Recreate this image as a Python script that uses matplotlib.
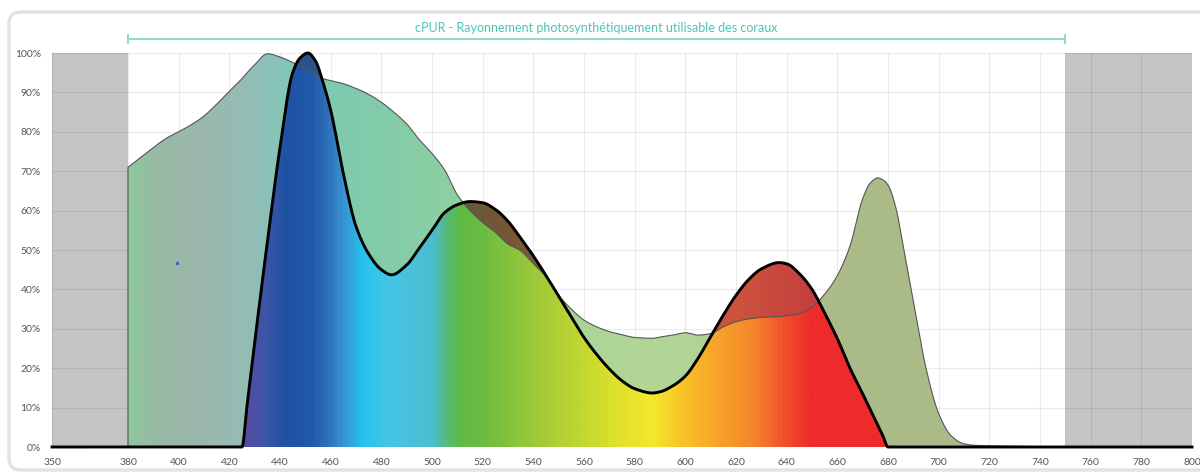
import matplotlib
matplotlib.use("Agg")
import matplotlib.pyplot as plt
import numpy as np
from matplotlib.colors import LinearSegmentedColormap
from matplotlib.path import Path
from matplotlib.patches import FancyBboxPatch

plt.rcParams['font.family'] = ['Lato', 'DejaVu Sans']

# wavelengths (nm) shared by both series
wavelengths = [380, 385, 390, 395, 400, 405, 410, 415, 420, 425, 427, 430, 435, 440,
               445, 448, 451, 454, 457, 460, 465, 470, 475, 480, 484, 490, 495,
               500, 505, 510, 515, 520, 525, 530, 535, 540, 545, 550, 555, 560,
               565, 570, 575, 580, 587, 590, 595, 600, 605, 610, 615, 620, 625,
               630, 637, 640, 645, 650, 655, 660, 665, 670, 673, 676, 678, 680, 683,
               686, 690, 695, 700, 705, 710, 715, 720, 730, 740, 750]

# light spectrum (green area), %
spectrum = [71, 73.5, 76, 78.3, 80, 81.8, 84, 87, 90.3, 93.5, 95, 97, 99.8, 99,
            97.6, 96.8, 95.8, 94.6, 93.5, 93, 92.2, 91, 89.5, 87.5, 85.5, 82, 78,
            74.5, 70.3, 64, 60, 57, 54.5, 51.5, 49.8, 46.5, 43.3, 38.5, 35, 32.2,
            30.5, 29.3, 28.5, 27.8, 27.6, 27.9, 28.4, 29, 28.4, 28.8, 30.5, 31.8, 32.5,
            32.9, 33.1, 33.3, 33.8, 35.5, 38.8, 43.5, 51, 63, 67, 68.3, 67.8, 66.5, 61,
            51, 37, 20, 8.5, 2.8, 0.8, 0.4, 0.3, 0.2, 0.1, 0]

# coral cPUR curve (black outline), %
cpur = [0, 0, 0, 0, 0, 0, 0, 0, 0, 0, 10.6, 26.5, 52, 76,
        95, 98.8, 100, 98, 92.5, 85.5, 69.4, 56, 49, 45, 43.7, 46.2, 50.5,
        55, 59.5, 61.5, 62.3, 62, 60.3, 57.3, 53, 48.5, 43.5, 38.3, 33, 27.8,
        23.5, 19.8, 16.8, 14.8, 13.7, 14, 15.5, 18, 22.5, 28, 33.5, 38.5, 42.5,
        45.2, 46.8, 46.5, 44, 40, 34, 27.5, 20, 13.5, 9.5, 5.5, 2.8, 0, 0,
        0, 0, 0, 0, 0, 0, 0, 0, 0, 0, 0]

x_ticks = [350, 380, 400, 420, 440, 460, 480, 500, 520, 540, 560, 580, 600,
           620, 640, 660, 680, 700, 720, 740, 760, 780, 800]
y_ticks = [0, 10, 20, 30, 40, 50, 60, 70, 80, 90, 100]
title = "cPUR - Rayonnement photosynthétiquement utilisable des coraux"

# colour stops (nm, colour)
green_stops = [(350, '#8ec79b'), (380, '#8ec79b'), (390, '#97bba4'), (405, '#9cb7ab'),
               (420, '#98bab3'), (432, '#8ec0b8'), (445, '#80c7b6'), (460, '#7fcaaf'),
               (480, '#82cca9'), (500, '#8acfa4'), (520, '#95d09f'), (550, '#a8d498'),
               (575, '#b0d696'), (600, '#b0d595'), (615, '#b0d092'), (640, '#acc48d'),
               (660, '#aabb88'), (800, '#aabb88')]
bright_stops = [(350, '#5a4aa0'), (425, '#5a4aa0'), (433, '#3d55a8'), (442, '#2052a3'),
                (452, '#2158a8'), (458, '#2c6fb8'), (464, '#3a8fcf'), (472, '#25c3ef'),
                (482, '#44c6e6'), (500, '#4bbdd0'), (504, '#52bb90'), (510, '#5eb948'),
                (520, '#6cbd42'), (540, '#9cc83a'), (560, '#c4d830'), (575, '#e2e22a'),
                (587, '#f4e82a'), (597, '#f8c828'), (612, '#f8a42a'), (627, '#f4862c'),
                (640, '#ef4e2c'), (650, '#ee2b2b'), (800, '#ee2b2b')]
dark_stops = [(350, '#284b84'), (440, '#284b84'), (455, '#2f578a'), (470, '#3a5a80'),
              (505, '#5a5a40'), (515, '#665a3c'), (530, '#785634'), (545, '#865c38'),
              (600, '#b8553a'), (620, '#cc543e'), (640, '#c8463d'), (655, '#c03d42'),
              (800, '#c03d42')]


def smooth(x, y, n=3000):
    # monotone cubic (PCHIP style) drawing of the polyline, no overshoot
    x = np.asarray(x, float)
    y = np.asarray(y, float)
    h = np.diff(x)
    d = np.diff(y) / h
    m = np.zeros_like(y)
    m[0], m[-1] = d[0], d[-1]
    for k in range(1, len(x) - 1):
        if d[k - 1] * d[k] > 0:
            w1 = 2 * h[k] + h[k - 1]
            w2 = h[k] + 2 * h[k - 1]
            m[k] = (w1 + w2) / (w1 / d[k - 1] + w2 / d[k])
    xs = np.linspace(x[0], x[-1], n)
    i = np.clip(np.searchsorted(x, xs) - 1, 0, len(x) - 2)
    t = (xs - x[i]) / h[i]
    h00 = 2 * t**3 - 3 * t**2 + 1
    h10 = t**3 - 2 * t**2 + t
    h01 = -2 * t**3 + 3 * t**2
    h11 = t**3 - t**2
    ys = h00 * y[i] + h10 * h[i] * m[i] + h01 * y[i + 1] + h11 * h[i] * m[i + 1]
    return xs, ys


def gradient_fill(ax, x, y1, y2, stops, zorder, where=None):
    coll = ax.fill_between(x, y1, y2, where=where, interpolate=True,
                           facecolor='none', edgecolor='none')
    clip = Path.make_compound_path(*coll.get_paths())
    cmap = LinearSegmentedColormap.from_list(
        'g', [((w - 350) / 450, c) for w, c in stops])
    grad = np.linspace(0, 1, 1200).reshape(1, -1)
    im = ax.imshow(grad, cmap=cmap, extent=[350, 800, 0, 100], aspect='auto',
                   interpolation='bilinear', zorder=zorder)
    im.set_clip_path(clip, ax.transData)
    return im


xs, spec = smooth(wavelengths, spectrum)
_, cp = smooth(wavelengths, cpur)

fig = plt.figure(figsize=(12, 4.73), dpi=100)
fig.patches.append(FancyBboxPatch((9, 3), 1300, 458,
                                  boxstyle='round,pad=0,rounding_size=12',
                                  transform=None, facecolor='none',
                                  edgecolor='#e3e3e3', lw=2.5))
ax = fig.add_axes([52 / 1200, 26 / 473, 1140 / 1200, 394 / 473])

ax.axvspan(350, 380, color='#c4c4c4', zorder=0, lw=0)
ax.axvspan(750, 800, color='#c4c4c4', zorder=0, lw=0)

gradient_fill(ax, xs, 0, spec, green_stops, 2)
gradient_fill(ax, xs, 0, cp, bright_stops, 3)
gradient_fill(ax, xs, spec, cp, dark_stops, 3.5, where=cp > spec)

ax.plot(np.r_[380, xs], np.r_[0, spec], color='#555555', lw=0.8, zorder=4)
ax.plot(np.r_[350, xs, 800], np.r_[0, cp, 0], color='black', lw=2.1,
        zorder=5, clip_on=False, solid_joinstyle='round')
ax.plot([399.5], [46.8], marker='o', ms=1.5, color='#4a5ad0', zorder=4)

# title bracket
ax.plot([380, 750], [103.6, 103.6], color='#8ed8cc', lw=1.4, clip_on=False)
for xe in (380, 750):
    ax.plot([xe, xe], [102.6, 104.6], color='#8ed8cc', lw=1.4, clip_on=False)
ax.text(565, 106.3, title, ha='center', va='center', fontsize=9,
        color='#4fc4b0', clip_on=False)

ax.set_xlim(350, 800)
ax.set_ylim(0, 100)
ax.set_xticks(x_ticks)
ax.set_yticks(y_ticks)
ax.set_yticklabels([f'{v}%' for v in y_ticks])
ax.tick_params(length=0, labelsize=7.5, colors='#555555')
ax.tick_params(axis='x', pad=8)
ax.tick_params(axis='y', pad=8)
ax.grid(color='black', alpha=0.08, lw=0.8)
ax.set_axisbelow(True)
for s in ax.spines.values():
    s.set_visible(False)

fig.savefig('out.png', dpi=100)
